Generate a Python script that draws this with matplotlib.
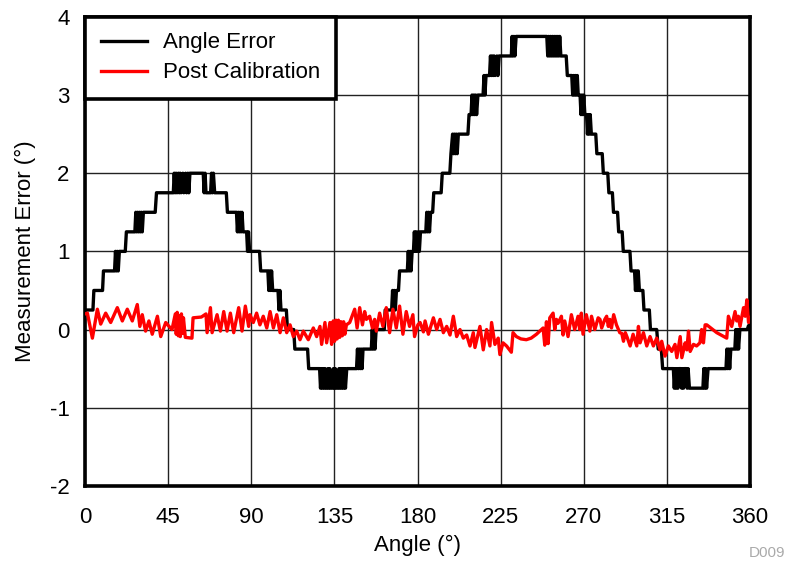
import numpy as np
import matplotlib
matplotlib.use('Agg')
import matplotlib.pyplot as plt

plt.rcParams['font.family'] = ['Liberation Sans', 'DejaVu Sans']
plt.rcParams['axes.unicode_minus'] = False

# Angle Error (quantised in 0.25 deg steps, with toggling near each step)
err_x = [0, 4.3, 4.8, 9.5, 10, 16, 16.5, 17, 17.5, 18, 18.6, 21.8, 22.4, 27,
         27.5, 28, 28.5, 29, 29.5, 30, 30.5, 31, 31.6, 38, 38.7, 47.8,
         48.3, 48.8, 49.3, 49.8, 50.5, 51, 51.5, 52, 53, 53.5, 54.5, 55, 55.7, 56.2, 56.8,
         64, 64.5, 65, 65.5, 68, 68.5, 69, 69.5, 70.2, 76.5, 77.1, 82,
         82.5, 83, 83.5, 84, 84.5, 85, 85.6, 87.5, 88, 88.5, 89.1, 94.5, 95.1, 99,
         99.5, 100, 100.5, 101, 101.6, 104.5, 105, 105.5, 106.1, 109, 109.6, 113, 113.6,
         120.5, 121.1, 127,
         127.5, 128, 128.5, 129, 129.5, 130, 130.5, 131, 131.5, 132, 132.5, 133, 134,
         134.5, 135, 135.5, 136, 137, 137.5, 138, 138.5, 139, 139.5, 140, 140.5, 141, 141.7,
         147, 147.5, 148, 148.5, 149, 149.5, 150, 150.5, 155, 155.5, 156, 156.5, 157, 157.6,
         162, 162.5, 166, 166.5, 167, 167.5, 168, 168.6, 169.7, 170.3, 174.5,
         175, 175.5, 176, 176.5, 177.1, 177.8, 178.3, 178.8, 179.3, 179.8, 180.5, 181, 181.6,
         184.5, 185, 185.5, 186, 186.5, 187.1, 188.2, 188.8, 192.8, 193.4, 197.5, 198.1,
         199, 199.5, 200, 200.5, 201, 201.5, 202.1, 207.3, 207.9, 209,
         209.5, 210, 210.5, 211, 211.5, 212, 212.7, 215.5, 216, 216.5, 217.1, 219,
         219.5, 220, 220.5, 221, 221.5, 222, 223, 223.5, 224.2, 230.8,
         231.2, 231.7, 232.2, 232.7, 233.4, 250,
         250.5, 251, 251.5, 252, 252.5, 253, 253.5, 254, 254.5, 255, 255.5, 256, 256.5, 257, 257.6,
         260.5, 261.1, 263.5, 264, 264.5, 265, 265.5, 266, 266.5, 267, 268,
         268.5, 269, 269.5, 270, 270.6, 271.5, 272, 272.5, 273, 273.5, 274.1, 276.5, 277.1,
         280, 280.6, 283, 283.6, 285.5, 286.1, 288.3, 288.9, 290.8, 291.4, 295, 295.6, 297.5,
         298, 298.5, 299, 299.5, 300.1, 302, 302.6, 305.5, 306.1, 309.5, 310.3, 312, 312.7, 318.5,
         319, 319.5, 320, 320.5, 321, 321.5, 322.5, 323, 323.5, 324, 324.5, 325.5, 326, 326.5, 327.2,
         334.5, 335, 335.5, 336, 336.5, 337.3, 347, 347.5, 348, 348.5, 349, 349.6, 351.8,
         352.3, 352.8, 353.3, 353.8, 354.5, 358.5, 359.2, 360]
err_y = [0.25, 0.25, 0.5, 0.5, 0.75, 0.75, 1, 0.75, 1, 0.75, 1, 1, 1.25, 1.25,
         1.5, 1.25, 1.5, 1.25, 1.5, 1.25, 1.5, 1.25, 1.5, 1.5, 1.75, 1.75,
         2, 1.75, 2, 1.75, 2, 1.75, 2, 1.75, 2, 1.75, 2, 1.75, 2, 1.75, 2,
         2, 1.75, 2, 1.75, 1.75, 2, 1.75, 2, 1.75, 1.75, 1.5, 1.5,
         1.25, 1.5, 1.25, 1.5, 1.25, 1.5, 1.25, 1.25, 1, 1.25, 1, 1, 0.75, 0.75,
         0.5, 0.75, 0.5, 0.75, 0.5, 0.5, 0.25, 0.5, 0.25, 0.25, 0, 0, -0.25,
         -0.25, -0.5, -0.5,
         -0.75, -0.5, -0.75, -0.5, -0.75, -0.5, -0.75, -0.75, -0.5, -0.75, -0.5, -0.75, -0.75,
         -0.5, -0.75, -0.5, -0.75, -0.75, -0.5, -0.75, -0.5, -0.75, -0.5, -0.75, -0.5, -0.75, -0.5,
         -0.5, -0.25, -0.5, -0.25, -0.5, -0.25, -0.5, -0.25, -0.25, 0, -0.25, 0, -0.25, 0,
         0, 0.25, 0.25, 0.5, 0.25, 0.5, 0.25, 0.5, 0.5, 0.75, 0.75,
         1, 0.75, 1, 0.75, 1, 1, 1.25, 1, 1.25, 1, 1.25, 1, 1.25,
         1.25, 1.5, 1.25, 1.5, 1.25, 1.5, 1.5, 1.75, 1.75, 2, 2, 2.25,
         2.5, 2.25, 2.5, 2.25, 2.5, 2.25, 2.5, 2.5, 2.75, 2.75,
         3, 2.75, 3, 2.75, 3, 2.75, 3, 3, 3.25, 3, 3.25, 3.25,
         3.5, 3.25, 3.5, 3.25, 3.5, 3.25, 3.5, 3.25, 3.5, 3.5,
         3.75, 3.5, 3.75, 3.5, 3.75, 3.75,
         3.5, 3.75, 3.5, 3.75, 3.5, 3.75, 3.5, 3.75, 3.5, 3.75, 3.5, 3.75, 3.5, 3.75, 3.5,
         3.5, 3.25, 3.25, 3, 3.25, 3, 3.25, 3, 3.25, 3, 3,
         2.75, 3, 2.75, 3, 2.75, 2.75, 2.5, 2.75, 2.5, 2.75, 2.5, 2.5, 2.25,
         2.25, 2, 2, 1.75, 1.75, 1.5, 1.5, 1.25, 1.25, 1, 1, 0.75, 0.75,
         0.5, 0.75, 0.5, 0.75, 0.5, 0.5, 0.25, 0.25, 0, 0, -0.25, -0.25, -0.5, -0.5,
         -0.75, -0.5, -0.75, -0.5, -0.75, -0.5, -0.5, -0.75, -0.5, -0.75, -0.5, -0.5, -0.75, -0.5, -0.75,
         -0.75, -0.5, -0.75, -0.5, -0.75, -0.5, -0.5, -0.25, -0.5, -0.25, -0.5, -0.25, -0.25,
         0, -0.25, 0, -0.25, 0, 0, 0.05, 0]

# Post Calibration residual
cal_x = [0, 1.3, 4.0, 6.7, 8.5, 11.2, 13.9, 17.5, 20.2, 22.9, 25.6, 28.3, 29.7, 31.0,
         32.8, 34.6, 36.4, 39.2, 41.0, 43.7, 45.5, 47.1, 48.9, 49.4, 49.9, 50.5, 51.0,
         51.6, 52.2, 52.8, 53.3, 54.3, 57.9, 58.5, 63.0, 65.5, 66.1, 67.9, 68.8, 71.5,
         73.3, 75.1, 76.9, 78.7, 80.5, 83.2, 85.0, 86.8, 88.6, 89.3, 91.1, 92.9, 94.7,
         96.5, 98.4, 100.2, 102.0, 103.8, 105.6, 107.4, 109.2, 111.0, 112.8, 114.6,
         116.4, 118.2, 120.9, 123.6, 125.4, 127.2, 128.1, 129.9, 130.8, 132.6, 133.5,
         134.4, 135.1, 135.8, 136.5, 137.2, 137.9, 138.6, 139.3, 140.0, 140.7, 141.5,
         143.3, 146.0, 147.3, 148.7, 150.2, 151.4, 152.3, 154.1, 155.6, 156.8, 157.7,
         159.5, 161.3, 163.1, 164.9, 166.7, 168.5, 170.3, 172.1, 173.9, 175.7, 177.5,
         178.4, 180.2, 181.4, 183.2, 184.1, 185.9, 188.6, 190.4, 192.2, 194.0, 195.8,
         197.6, 199.4, 201.2, 203.0, 204.8, 206.6, 208.4, 210.2, 211.1, 213.8, 215.6,
         217.4, 219.2, 220.1, 221.9, 223.7, 224.6, 226.3, 228.2, 230.8, 231.7, 233.5,
         236.0, 238.9, 241.5, 244.4, 248.0, 248.9, 249.8, 250.7, 251.6, 253.4, 254.3,
         255.2, 256.1, 257.9, 258.8, 259.7, 261.5, 263.3, 265.1, 266.9, 267.8, 268.7,
         269.6, 271.4, 273.3, 274.2, 276.0, 277.8, 278.8, 279.7, 281.4, 282.4, 283.3,
         284.1, 285.0, 286.2, 287.7, 289.5, 290.6, 291.5, 292.5, 293.5, 295.1, 296.7,
         298.7, 299.6, 300.5, 302.3, 304.1, 305.9, 307.7, 309.5, 311.3, 312.2, 314.0,
         315.8, 317.6, 319.4, 320.4, 322.2, 323.1, 324.9, 325.8, 326.7, 327.6, 329.4,
         331.1, 332.9, 333.8, 334.8, 335.7, 336.6, 342.0, 347.4, 348.3, 350.1, 351.9,
         352.8, 353.7, 354.6, 356.5, 357.4, 358.3, 359.2, 360.0]
cal_y = [0.2, 0.21, -0.11, 0.26, 0.07, 0.21, 0.09, 0.28, 0.11, 0.26, 0.11, 0.32, 0.04, 0.19,
         -0.02, 0.11, -0.06, 0.17, -0.09, 0.09, 0.04, 0.0, 0.2, -0.06, 0.22, -0.08, 0.18,
         -0.09, 0.2, -0.05, 0.15, -0.1, -0.11, 0.15, 0.16, 0.2, -0.04, 0.28, -0.04, 0.19,
         -0.02, 0.23, -0.02, 0.21, -0.04, 0.28, -0.02, 0.3, 0.04, 0.19, 0.09, 0.21, 0.06,
         0.17, 0.02, 0.23, 0.02, 0.19, -0.04, 0.15, -0.04, 0.06, -0.09, -0.02,
         -0.13, -0.02, -0.13, 0.02, -0.09, 0.04, -0.19, 0.09, -0.17, 0.09, -0.19,
         0.11, -0.15, 0.12, -0.12, 0.12, -0.1, 0.1, -0.08, 0.1, -0.06, 0.06,
         0.09, 0.26, 0.02, 0.28, 0.06, 0.23, 0.13, 0.17, 0.02, 0.13, -0.02,
         0.21, 0.04, 0.28, -0.04, 0.26, 0.02, 0.3, -0.06, 0.23, 0.04, 0.19,
         -0.09, 0.06, 0.09, -0.03, 0.11, -0.06, 0.15, 0.0, 0.13, -0.04, 0.04,
         -0.07, 0.17, -0.09, 0.0, -0.11, -0.07, -0.21, -0.04, -0.23, 0.04, -0.26,
         0.0, -0.21, 0.09, -0.19, -0.11, -0.32, -0.17, -0.21, -0.29, -0.04, -0.09,
         -0.12, -0.13, -0.11, -0.06, 0.02, -0.2, 0.1, -0.18, 0.15, 0.21, 0.0,
         0.13, 0.08, 0.17, -0.07, 0.11, -0.09, 0.19, 0.0, 0.17, 0.0, 0.21,
         -0.06, 0.19, -0.02, 0.17, 0.0, 0.15, 0.13, 0.02, 0.13, 0.17, 0.04,
         0.13, 0.02, 0.19, 0.06, -0.04, -0.05, -0.15, -0.04, -0.1, -0.21, -0.06,
         -0.21, 0.04, -0.17, -0.04, -0.21, -0.09, -0.21, -0.11, -0.26, -0.15, -0.34,
         -0.21, -0.28, -0.19, -0.36, -0.09, -0.36, -0.17, -0.26, -0.02, -0.28, -0.19,
         -0.21, -0.17, 0.0, -0.17, 0.06, 0.06, -0.04, -0.11, 0.17, 0.04, 0.23,
         0.11, 0.17, 0.04, 0.28, 0.17, 0.38, 0.09, 0.15]

x_ticks = [0, 45, 90, 135, 180, 225, 270, 315, 360]
y_ticks = [-2, -1, 0, 1, 2, 3, 4]

fig = plt.figure(figsize=(7.87, 5.63), dpi=100)
ax = fig.add_axes([0.108, 0.137, 0.845, 0.833])

ax.plot(err_x, err_y, color='black', lw=2.4, label='Angle Error', zorder=3)
ax.plot(cal_x, cal_y, color='#ff0000', lw=2.4, label='Post Calibration', zorder=4)

ax.set_xlim(0, 360)
ax.set_ylim(-2, 4)
ax.set_xticks(x_ticks)
ax.set_yticks(y_ticks)
ax.tick_params(axis='x', length=0, labelsize=16, pad=15)
ax.tick_params(axis='y', length=0, labelsize=16, pad=11)
ax.grid(True, color='#222222', lw=1.0)
ax.set_axisbelow(True)
for s in ax.spines.values():
    s.set_linewidth(2.6)
    s.set_color('black')

ax.set_xlabel('Angle (°)', fontsize=16, labelpad=5)
ax.set_ylabel('Measurement Error (°)', fontsize=16, labelpad=10)

leg = ax.legend(loc='upper left', borderaxespad=0, fontsize=16, fancybox=False,
                framealpha=1, edgecolor='black', handlelength=2.1, handletextpad=0.7,
                labelspacing=0.4, borderpad=0.7)
leg.get_frame().set_linewidth(2.6)
for h in leg.get_lines():
    h.set_linewidth(2.4)

fig.text(0.998, 0.005, 'D009', ha='right', va='bottom', fontsize=11, color='#aaaaaa')

fig.savefig('out.png', dpi=100)
